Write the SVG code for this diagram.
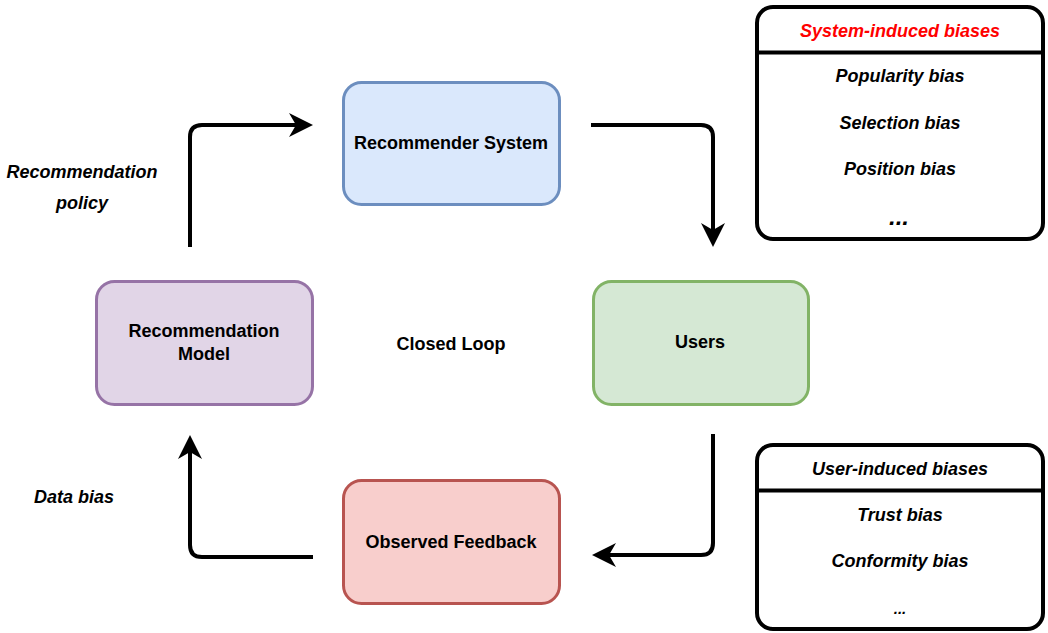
<svg xmlns="http://www.w3.org/2000/svg" width="1048" height="633" viewBox="0 0 1048 633">
<style>
text{font-family:"Liberation Sans",Arial,sans-serif;font-weight:bold;font-size:18px;fill:#000}
.c{text-anchor:middle}
.i{font-style:italic}
.node{stroke-width:3}
.conn{fill:none;stroke:#000;stroke-width:4;stroke-linejoin:round}
.head{fill:#000}
.bias{fill:#fff;stroke:#000;stroke-width:4}
</style>
<rect width="1048" height="633" fill="#fff"/>
<g id="connectors">
<path class="conn" d="M190 247 V137 Q190 125 202 125 H298"/>
<path class="head" d="M313 125 L289 113 L296 125 L289 137 Z"/>
<path class="conn" d="M591 125 H701 Q713 125 713 137 V232"/>
<path class="head" d="M713 247 L701 223 L713 230 L725 223 Z"/>
<path class="conn" d="M713 434 V543 Q713 555 701 555 H607"/>
<path class="head" d="M592 555 L616 543 L609 555 L616 567 Z"/>
<path class="conn" d="M313 557 H202 Q190 557 190 545 V450"/>
<path class="head" d="M190 435 L178 459 L190 452 L202 459 Z"/>
</g>
<g id="recommender-system">
<rect class="node" x="343.5" y="82.5" width="216" height="122" rx="18" fill="#dae8fc" stroke="#6c8ebf"/>
<text class="c" x="451" y="149">Recommender System</text>
</g>
<g id="users">
<rect class="node" x="593.5" y="281.5" width="215" height="123" rx="18" fill="#d5e8d4" stroke="#82b366"/>
<text class="c" x="700" y="348">Users</text>
</g>
<g id="recommendation-model">
<rect class="node" x="96.5" y="281.5" width="216" height="123" rx="18" fill="#e1d5e7" stroke="#9673a6"/>
<text class="c" x="204" y="337">Recommendation</text>
<text class="c" x="204" y="360">Model</text>
</g>
<g id="observed-feedback">
<rect class="node" x="343.5" y="480.5" width="216" height="123" rx="18" fill="#f8cecc" stroke="#b85450"/>
<text class="c" x="451" y="548">Observed Feedback</text>
</g>
<g id="closed-loop">
<text class="c" x="451" y="350">Closed Loop</text>
</g>
<g id="label-policy">
<text class="c i" x="82" y="178">Recommendation</text>
<text class="c i" x="82" y="209">policy</text>
</g>
<g id="label-data-bias">
<text class="c i" x="74" y="503">Data bias</text>
</g>
<g id="system-biases">
<rect class="bias" x="757" y="7" width="286" height="232" rx="16"/>
<line x1="757" y1="52.5" x2="1043" y2="52.5" stroke="#000" stroke-width="4"/>
<text class="c i" x="900" y="37" style="fill:#ff0000">System-induced biases</text>
<text class="c i" x="900" y="82">Popularity bias</text>
<text class="c i" x="900" y="129">Selection bias</text>
<text class="c i" x="900" y="175">Position bias</text>
<text class="c i" x="899" y="225" style="font-size:24px">...</text>
</g>
<g id="user-biases">
<rect class="bias" x="757" y="445" width="286" height="184" rx="16"/>
<line x1="757" y1="490.5" x2="1043" y2="490.5" stroke="#000" stroke-width="4"/>
<text class="c i" x="900" y="475">User-induced biases</text>
<text class="c i" x="900" y="521">Trust bias</text>
<text class="c i" x="900" y="567">Conformity bias</text>
<text class="c i" x="900" y="614" style="font-size:15px">...</text>
</g>
</svg>
